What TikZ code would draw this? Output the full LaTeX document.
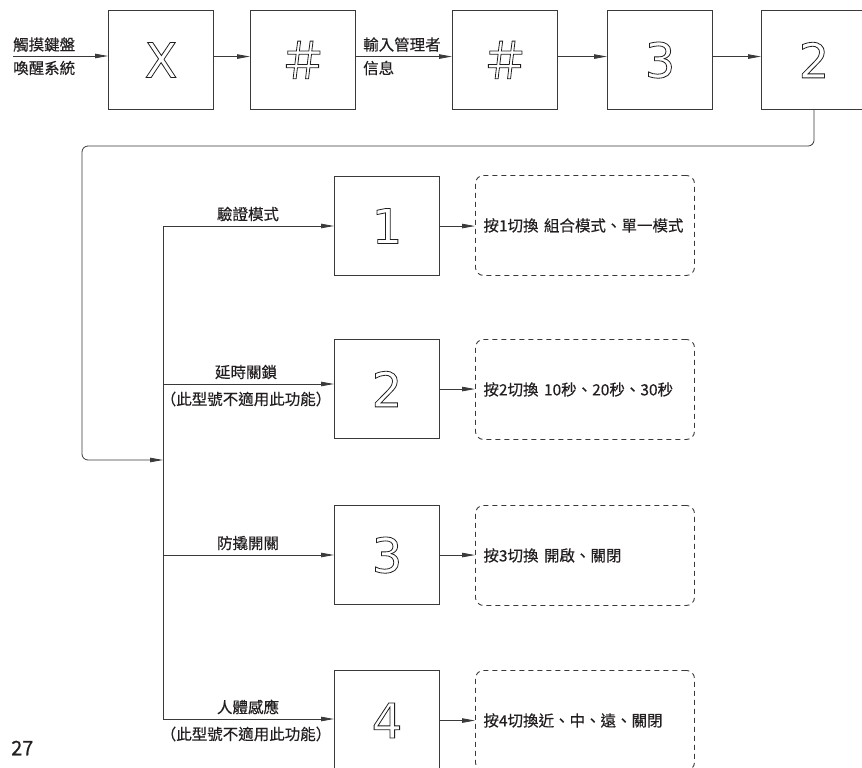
\documentclass[tikz,border=0pt]{standalone}
\usepackage{fontspec}
\setmainfont{Noto Sans CJK TC}[FakeBold=0.35]
\newfontfamily\cadfont{DejaVu Sans}
\newfontfamily\cjkplain{Noto Sans CJK TC}
\usetikzlibrary{arrows.meta}
\definecolor{ink}{HTML}{231F20}
\definecolor{linegray}{HTML}{3A3A3A}
\newcommand{\hollowtext}[1]{\special{pdf:literal direct 1 Tr 0.8 w}#1\special{pdf:literal direct 0 Tr}}
\newcommand{\hashsign}{{\cjkplain\fontsize{50}{52}\selectfont ＃}}
\tikzset{
  sq/.style={draw=linegray, line width=1.1pt, minimum width=105pt, minimum height=99pt,
    inner sep=0pt, anchor=north west, font=\cadfont\fontsize{48}{50}\selectfont, text=ink},
  dbox/.style={draw=linegray, dash pattern=on 5pt off 4pt, rounded corners=8pt, line width=0.9pt,
    minimum width=219pt, minimum height=100pt, anchor=north west, text width=203pt,
    inner xsep=8pt, inner ysep=0pt, align=left, font=\fontsize{15.5}{18}\selectfont, text=ink},
  conn/.style={draw=linegray, line width=0.8pt},
  arr/.style={conn, -{Triangle[length=13pt,width=4.5pt]}},
  lbl/.style={font=\fontsize{15.5}{18}\selectfont, text=ink, inner sep=0pt},
}
\begin{document}
\begin{tikzpicture}[x=1pt, y=-1pt]
\useasboundingbox (0,0) rectangle (862,768);
\clip (0,0) rectangle (862,768);

% top row
\node[sq] (t1) at (108,10) {\hollowtext{X}};
\node[sq] (t2) at (250,10) {\hollowtext{\hashsign}};
\node[sq] (t3) at (452,10) {\hollowtext{\hashsign}};
\node[sq] (t4) at (607,10) {\hollowtext{3}};
\node[sq] (t5) at (761,10) {\hollowtext{2}};

\coordinate (in) at (13,56);
\draw[arr] (in) -- (in -| t1.west);
\draw[arr] ([yshift=3.5pt]t1.east) -- ([yshift=3.5pt]t2.west);
\draw[arr] ([yshift=3.5pt]t2.east) -- ([yshift=3.5pt]t3.west);
\draw[arr] ([yshift=3.5pt]t3.east) -- ([yshift=3.5pt]t4.west);
\draw[arr] ([yshift=3.5pt]t4.east) -- ([yshift=3.5pt]t5.west);

\node[lbl, anchor=west] (l1a) at (13,44.5) {觸摸鍵盤};
\node[lbl, anchor=west] (l1b) at (13,68) {喚醒系統};
\node[lbl, anchor=west] (l2a) at (363,44.5) {輸入管理者};
\node[lbl, anchor=west] (l2b) at (363,68) {信息};

% loop back
\coordinate (lp) at (82,146);
\coordinate (j0) at (163,460);
\draw[arr, rounded corners=6pt] (t5.south) |- (lp) |- (j0);

% trunk
\coordinate (tr1) at (163,226);
\coordinate (tr2) at (163,384);
\coordinate (tr3) at (163,555);
\coordinate (tr4) at (163,719);
\draw[conn] (tr1) -- (tr4);

% middle boxes
\node[sq] (m1) at (334,176) {\hollowtext{1}};
\node[sq] (m2) at (334,339) {\hollowtext{2}};
\node[sq] (m3) at (334,505) {\hollowtext{3}};
\node[sq, minimum height=100pt] (m4) at (334,670) {\hollowtext{4}};

\draw[arr] (tr1) -- (tr1 -| m1.west);
\draw[arr] (tr2) -- (tr2 -| m2.west);
\draw[arr] (tr3) -- (tr3 -| m3.west);
\draw[arr] (tr4) -- (tr4 -| m4.west);

\node[lbl] (b1) at (248,214) {驗證模式};
\node[lbl] (b2) at (246,372) {延時關鎖};
\node[lbl] (b2n) at (246,399) {（此型號不適用此功能）};
\node[lbl] (b3) at (248,543) {防撬開關};
\node[lbl] (b4) at (248,707) {人體感應};
\node[lbl] (b4n) at (246,734) {（此型號不適用此功能）};

% dashed result boxes
\node[dbox] (d1) at (475,175) {按1切換\hspace{0.35em}組合模式、單一模式};
\node[dbox] (d2) at (475,339) {按2切換\hspace{0.35em}10秒、20秒、30秒};
\node[dbox] (d3) at (475,505) {按3切換\hspace{0.35em}開啟、關閉};
\node[dbox] (d4) at (475,670) {按4切換近、中、遠、關閉};

\draw[arr] (m1.east) -- (m1.east -| d1.west);
\draw[arr] (m2.east) -- (m2.east -| d2.west);
\draw[arr] (m3.east) -- (m3.east -| d3.west);
\draw[arr] (m4.east) -- (m4.east -| d4.west);

% page number
\node[font=\fontsize{20}{24}\selectfont, text=ink, inner sep=0pt, anchor=west] (pg) at (11,748) {27};
\end{tikzpicture}
\end{document}
